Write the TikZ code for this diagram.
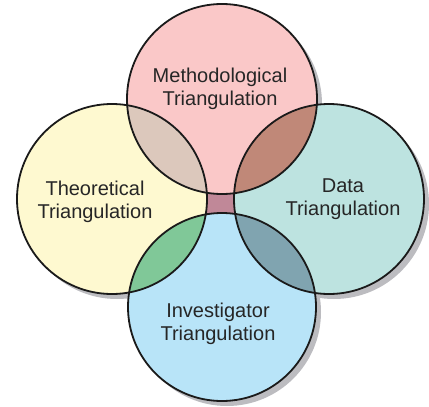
\documentclass[tikz,border=0pt]{standalone}
\usepackage{fontspec}
\setmainfont{Liberation Sans}
\definecolor{cTop}{HTML}{FAC8C8}
\definecolor{cLeft}{HTML}{FEF9D0}
\definecolor{cRight}{HTML}{BDE3E0}
\definecolor{cBot}{HTML}{B8E4F8}
\definecolor{cTL}{HTML}{DCC8BC}
\definecolor{cTR}{HTML}{C08878}
\definecolor{cLB}{HTML}{80C898}
\definecolor{cRB}{HTML}{80A4B0}
\definecolor{cMid}{HTML}{C08898}
\definecolor{cShadow}{HTML}{BCBCC0}
\definecolor{cText}{HTML}{262626}
\definecolor{cLine}{HTML}{1A1A1A}
\begin{document}
\begin{tikzpicture}[x=1pt,y=-1pt,
  outline/.style={draw=cLine,line width=1.8pt},
  label/.style={text=cText,align=center,font=\fontsize{20}{23.5}\selectfont,inner sep=0pt}]
\useasboundingbox (0,0) rectangle (429,407);
% circle centres
\coordinate (T) at (222,99);
\coordinate (L) at (112,199);
\coordinate (R) at (329,199);
\coordinate (B) at (222,307);
% shadows
\foreach \c/\r in {T/95,L/95,R/95,B/94}{
  \fill[cShadow] ([shift={(5,5)}]\c) circle[radius=\r];
}
% centre gap
\fill[cMid] (198,185) rectangle (245,222);
% circles
\fill[cTop] (T) circle[radius=95];
\fill[cLeft] (L) circle[radius=95];
\fill[cRight] (R) circle[radius=95];
\fill[cBot] (B) circle[radius=94];
% overlaps
\begin{scope}\clip (T) circle[radius=95]; \fill[cTL] (L) circle[radius=95]; \fill[cTR] (R) circle[radius=95];\end{scope}
\begin{scope}\clip (B) circle[radius=94]; \fill[cLB] (L) circle[radius=95]; \fill[cRB] (R) circle[radius=95];\end{scope}
% outlines
\draw[outline] (T) circle[radius=95];
\draw[outline] (L) circle[radius=95];
\draw[outline] (R) circle[radius=95];
\draw[outline] (B) circle[radius=94];
% labels
\node[label] (tm) at (220,89) {Methodological\\Triangulation};
\node[label] (tt) at (95,202) {Theoretical\\Triangulation};
\node[label] (td) at (343,199) {Data\\Triangulation};
\node[label] (ti) at (218,324) {Investigator\\Triangulation};
\end{tikzpicture}
\end{document}
